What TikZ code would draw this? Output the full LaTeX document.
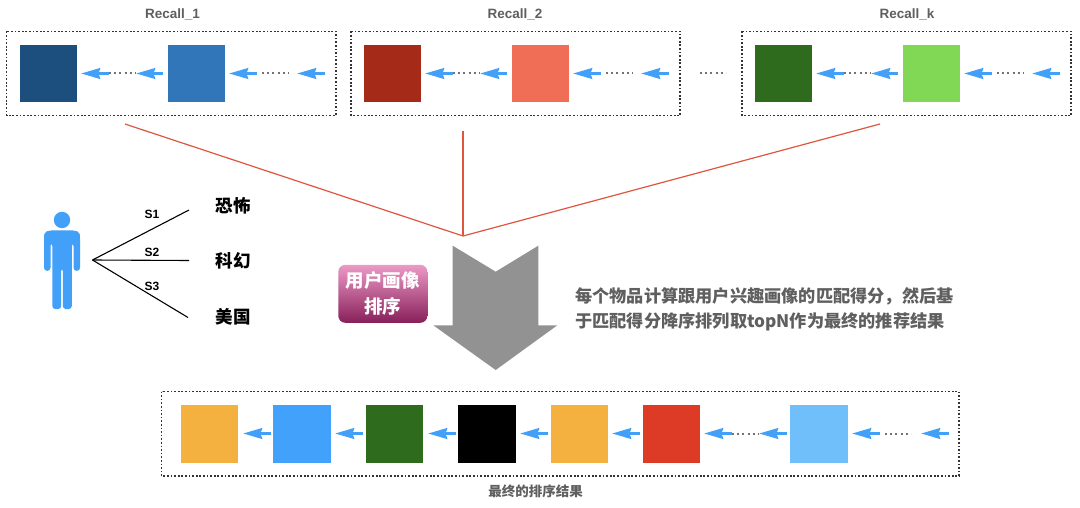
\documentclass[tikz,border=0pt]{standalone}
\usepackage{fontspec}
\setmainfont{Liberation Sans}
\newfontfamily\cjk{Noto Sans CJK SC}
\usetikzlibrary{arrows.meta}
\definecolor{ablue}{HTML}{42A0F8}
\definecolor{redline}{HTML}{E0553F}
\definecolor{grayarrow}{HTML}{929292}
\definecolor{txtgray}{HTML}{5F5F5F}
\definecolor{sqnavy}{HTML}{1C4E7E}
\definecolor{sqblue}{HTML}{3176B8}
\definecolor{sqbrick}{HTML}{A52A17}
\definecolor{sqcoral}{HTML}{F06E55}
\definecolor{sqgreen}{HTML}{2E6B1C}
\definecolor{sqlime}{HTML}{80D855}
\definecolor{sqamber}{HTML}{F4B13F}
\definecolor{sqazure}{HTML}{42A2FB}
\definecolor{sqred}{HTML}{DD3B26}
\definecolor{sqsky}{HTML}{70BFFA}
\definecolor{pinktop}{HTML}{EC9AC6}
\definecolor{pinkbot}{HTML}{88205A}
\tikzset{
  sq/.style={minimum size=57.5pt,inner sep=0pt,outer sep=0pt,fill=#1},
  dotbox/.style={draw=black!80,line width=1.25pt,dash pattern=on 1.7pt off 1.9pt},
  bluearrow/.style={draw=ablue,line width=3.2pt,-{Stealth[length=19pt,width=10.5pt,inset=1.5pt]}},
  dotlink/.style={draw=black!55,line width=2pt,dash pattern=on 2pt off 3.2pt},
  redl/.style={draw=redline,line width=1.2pt},
  blackl/.style={draw=black,line width=1.1pt},
  ttl/.style={font=\fontsize{13.5}{15}\selectfont\bfseries,text=txtgray,inner sep=0pt},
  slabel/.style={font=\fontsize{12}{14}\selectfont\bfseries,text=black,inner sep=0pt},
  tag/.style={font=\cjk\fontsize{17.5}{20}\selectfont\bfseries,text=black,inner sep=0pt},
}
\newcommand{\recallgroup}[4]{%
  \begin{scope}[xshift=#2 pt]
  \node[sq=#3] (#1a) at (48.5,73.5) {};
  \node[sq=#4] (#1b) at (196.5,73.5) {};
  \coordinate (#1t1) at (81,73.5);
  \coordinate (#1f1) at (109,73.5);
  \coordinate (#1t2) at (136,73.5);
  \coordinate (#1f2) at (163,73.5);
  \coordinate (#1t3) at (229,73.5);
  \coordinate (#1f3) at (257,73.5);
  \coordinate (#1d3) at (262,73.5);
  \coordinate (#1d4) at (289,73.5);
  \coordinate (#1t4) at (297,73.5);
  \coordinate (#1f4) at (325,73.5);
  \draw[dotlink] (#1f1) -- (#1t2);
  \draw[bluearrow] (#1f1) -- (#1t1);
  \draw[bluearrow] (#1f2) -- (#1t2);
  \draw[bluearrow] (#1f3) -- (#1t3);
  \draw[dotlink] (#1d3) -- (#1d4);
  \draw[bluearrow] (#1f4) -- (#1t4);
  \end{scope}}
\begin{document}
\begin{tikzpicture}[x=1pt,y=-1pt]
\useasboundingbox[fill=white] (0,0) rectangle (1080,508);
% top groups
\node[ttl] (r1) at (172.5,14.5) {Recall\_1};
\node[ttl] (r2) at (515,14.5) {Recall\_2};
\node[ttl] (rk) at (907,14.5) {Recall\_k};
\draw[dotbox] (6.5,31.5) rectangle (336,115.5);
\draw[dotbox] (351,31.5) rectangle (680,115.5);
\draw[dotbox] (742,31.5) rectangle (1071,115.5);
\recallgroup{p}{0}{sqnavy}{sqblue}
\recallgroup{q}{344}{sqbrick}{sqcoral}
\recallgroup{u}{735}{sqgreen}{sqlime}
\coordinate (gapa) at (700,73.5);
\coordinate (gapb) at (726,73.5);
\draw[dotlink] (gapa) -- (gapb);
% red funnel
\coordinate (fa) at (125,124);
\coordinate (fb) at (463,131);
\coordinate (fc) at (880,124);
\coordinate (fm) at (463,236);
\draw[redl] (fa) -- (fm);
\draw[redl] (fb) -- (fm);
\draw[redl] (fc) -- (fm);
% person
\fill[ablue] (62,220) circle (8.2);
\fill[ablue,rounded corners=3pt]
  (44,270.8) -- (44,236) -- (44.6,233) -- (48,230.5) -- (76,230.5) -- (79.4,233) -- (80,236) -- (80,270.8)
  -- (73.5,270.8) -- (73.5,243) -- (71.8,243) -- (71.8,309) -- (62.8,309) -- (62.8,268) -- (61.2,268)
  -- (61.2,309) -- (52.3,309) -- (52.3,243) -- (50.5,243) -- (50.5,270.8) -- cycle;
% branches
\coordinate (o) at (92.5,260);
\coordinate (e1) at (189,210);
\coordinate (e2) at (189,260.5);
\coordinate (e3) at (188,317.5);
\draw[blackl] (o) -- (e1);
\draw[blackl] (o) -- (e2);
\draw[blackl] (o) -- (e3);
\node[slabel] (s1) at (152,214.5) {S1};
\node[slabel] (s2) at (152,252) {S2};
\node[slabel] (s3) at (152,286.5) {S3};
\node[tag] (t1) at (233,205.5) {恐怖};
\node[tag] (t2) at (233,261) {科幻};
\node[tag] (t3) at (233,317) {美国};
% pink box
\node[minimum width=89pt,minimum height=58pt,inner sep=0pt,rounded corners=7pt,
  top color=pinktop,bottom color=pinkbot,align=center,text=white,
  font=\cjk\fontsize{18.5}{26}\selectfont\bfseries] (pink) at (382.8,293.8) {用户画像\\排序};
% big arrow
\fill[grayarrow] (452.7,245.7) -- (495.7,271.7) -- (538.3,245.7) -- (538.3,325.3) -- (557.3,325.3)
  -- (495.7,370) -- (433.3,325.3) -- (452.7,325.3) -- cycle;
% description
\node[anchor=west,inner sep=0pt,text=txtgray,font=\cjk\fontsize{17.2}{25}\selectfont\bfseries,align=left] (desc) at (575,309)
  {每个物品计算跟用户兴趣画像的匹配得分，然后基\\于匹配得分降序排列取topN作为最终的推荐结果};
% bottom group
\draw[dotbox] (161.5,391.5) rectangle (959,476);
\node[sq=sqamber] (b1) at (209.7,434) {};
\node[sq=sqazure] (b2) at (302,434) {};
\node[sq=sqgreen] (b3) at (394.3,434) {};
\node[sq=black] (b4) at (487,434) {};
\node[sq=sqamber] (b5) at (579.5,434) {};
\node[sq=sqred] (b6) at (671.5,434) {};
\node[sq=sqsky] (b7) at (819,434) {};
\foreach \n/\t/\f in {a/243/271,b/335/363,c/428/456,d/520/548,e/612/640,f/704/732,g/759/787,h/852/880,i/921/949}{
  \coordinate (t\n) at (\t,433.5);
  \coordinate (f\n) at (\f,433.5);
}
\draw[dotlink] (ff) -- (tg);
\foreach \n in {a,b,c,d,e,f,g,h,i}{
  \draw[bluearrow] (f\n) -- (t\n);
}
\coordinate (bd1) at (885,433.5);
\coordinate (bd2) at (911,433.5);
\draw[dotlink] (bd1) -- (bd2);
\node[font=\cjk\fontsize{13.5}{15}\selectfont\bfseries,text=txtgray,inner sep=0pt] (final) at (535.5,491.5) {最终的排序结果};
\end{tikzpicture}
\end{document}
